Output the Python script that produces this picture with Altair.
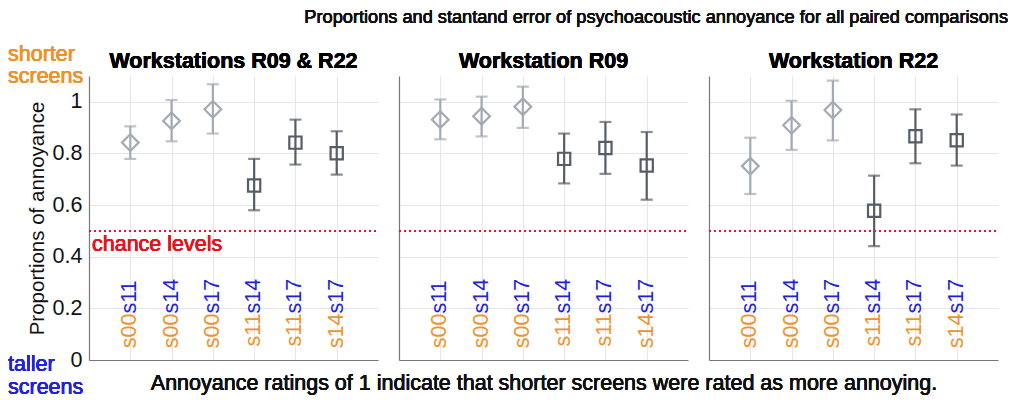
import altair as alt
import pandas as pd

pairs = ["s00s11", "s00s14", "s00s17", "s11s14", "s11s17", "s14s17"]
first_part = ["s00", "s00", "s00", "s11", "s11", "s14"]
second_part = ["s11", "s14", "s17", "s14", "s17", "s17"]
pos = [1, 2, 3, 4, 5, 6]
group = ["ref", "ref", "ref", "cmp", "cmp", "cmp"]

panel_titles = ["Workstations R09 & R22", "Workstation R09", "Workstation R22"]

mean_all = [0.842, 0.926, 0.971, 0.676, 0.842, 0.801]
lo_all = [0.779, 0.847, 0.877, 0.580, 0.757, 0.718]
hi_all = [0.905, 1.007, 1.068, 0.779, 0.931, 0.886]

mean_r09 = [0.931, 0.944, 0.981, 0.779, 0.821, 0.753]
lo_r09 = [0.855, 0.866, 0.899, 0.684, 0.721, 0.621]
hi_r09 = [1.009, 1.020, 1.059, 0.877, 0.922, 0.883]

mean_r22 = [0.751, 0.909, 0.968, 0.578, 0.867, 0.851]
lo_r22 = [0.643, 0.814, 0.851, 0.441, 0.762, 0.753]
hi_r22 = [0.861, 1.004, 1.082, 0.714, 0.971, 0.951]

chance = 0.5
y_ticks = [0, 0.2, 0.4, 0.6, 0.8, 1.0]

FONT = "Liberation Sans"
ORANGE = "#f0922a"
BLUE = "#2222d8"
RED = "#e8141e"
LIGHT = "#a3aab5"
DARK = "#565d67"
FS = 21.5

W, H = 289, 284
YDOM = [0, 1.1]


def panel(idx, means, los, his):
    df = pd.DataFrame({
        "pos": pos, "pair": pairs, "first": first_part, "second": second_part,
        "mean": means, "lo": los, "hi": his, "group": group,
    })
    xs = alt.Scale(domain=[0, 7], nice=False)
    ys = alt.Scale(domain=YDOM, nice=False)
    if idx == 0:
        yaxis = alt.Axis(values=y_ticks, format="~g", title="Proportions of annoyance",
                         titleFontSize=20.5, titleFontWeight="normal", titleColor="#111",
                         titleFont=FONT, titlePadding=5,
                         labelFontSize=FS, labelFont=FONT, labelColor="#111",
                         labelPadding=7, ticks=False,
                         domainColor="#777", domainWidth=1.2,
                         gridColor="#e6e6e6")
    else:
        yaxis = alt.Axis(values=y_ticks, title=None, labels=False, ticks=False,
                         domainColor="#777", domainWidth=1.2, gridColor="#e6e6e6")
    xaxis = alt.Axis(values=pos, title=None, labels=False, ticks=False,
                     domainColor="#777", domainWidth=1.2, gridColor="#e6e6e6")

    base = alt.Chart(df)
    color_enc = alt.Color("group:N", scale=alt.Scale(domain=["ref", "cmp"], range=[LIGHT, DARK]),
                          legend=None)

    grid = base.mark_point(opacity=0).encode(
        x=alt.X("pos:Q", scale=xs, axis=xaxis),
        y=alt.Y("mean:Q", scale=ys, axis=yaxis),
    )
    chance_rule = base.mark_rule(color=RED, strokeWidth=2, strokeDash=[2, 3]).encode(
        y=alt.datum(chance),
        x=alt.value(0), x2=alt.value(W),
    )
    bars = base.mark_rule(strokeWidth=2.2).encode(
        x="pos:Q", y="lo:Q", y2="hi:Q", color=color_enc
    )
    cap_hi = base.mark_tick(orient="horizontal", size=12, thickness=2.2).encode(
        x="pos:Q", y="hi:Q", color=color_enc
    )
    cap_lo = base.mark_tick(orient="horizontal", size=12, thickness=2.2).encode(
        x="pos:Q", y="lo:Q", color=color_enc
    )
    pts = base.mark_point(filled=False, strokeWidth=2.2, fill="white", fillOpacity=0).encode(
        x="pos:Q", y="mean:Q", color=color_enc,
        shape=alt.Shape("group:N", scale=alt.Scale(domain=["ref", "cmp"], range=["diamond", "square"]),
                        legend=None),
        size=alt.Size("group:N", scale=alt.Scale(domain=["ref", "cmp"], range=[280, 150]), legend=None),
    )
    lab1 = base.mark_text(angle=270, align="right", baseline="middle", fontSize=FS,
                          font=FONT, color=ORANGE).encode(
        x="pos:Q", y=alt.datum(0.18), text="first:N"
    )
    lab2 = base.mark_text(angle=270, align="left", baseline="middle", fontSize=FS,
                          font=FONT, color=BLUE).encode(
        x="pos:Q", y=alt.datum(0.18), text="second:N"
    )
    title = base.mark_text(fontSize=FS, font=FONT, fontWeight="bold", color="#000",
                           baseline="alphabetic", align="center").encode(
        x=alt.value(W / 2), y=alt.value(-8), text=alt.value(panel_titles[idx])
    )
    layers = [grid, chance_rule, bars, cap_hi, cap_lo, pts, lab1, lab2, title]
    if idx == 0:
        layers += [
            base.mark_text(fontSize=FS, font=FONT, color=RED, align="left", baseline="alphabetic").encode(
                x=alt.value(3), y=alt.value(175), text=alt.value("chance levels")),
            base.mark_text(fontSize=FS, font=FONT, color=ORANGE, align="left", baseline="alphabetic").encode(
                x=alt.value(-81), y=alt.value(-15), text=alt.value("shorter")),
            base.mark_text(fontSize=FS, font=FONT, color=ORANGE, align="left", baseline="alphabetic").encode(
                x=alt.value(-81), y=alt.value(7), text=alt.value("screens")),
            base.mark_text(fontSize=FS, font=FONT, color=BLUE, align="left", baseline="alphabetic").encode(
                x=alt.value(-81), y=alt.value(295), text=alt.value("taller")),
            base.mark_text(fontSize=FS, font=FONT, color=BLUE, align="left", baseline="alphabetic").encode(
                x=alt.value(-81), y=alt.value(318), text=alt.value("screens")),
        ]
    if idx == 1:
        layers.append(
            base.mark_text(fontSize=FS, font=FONT, color="#111", align="center", baseline="alphabetic").encode(
                x=alt.value(145), y=alt.value(314),
                text=alt.value("Annoyance ratings of 1 indicate that shorter screens were rated as more annoying."))
        )
    if idx == 2:
        layers.append(
            base.mark_text(fontSize=18.2, font=FONT, color="#111", align="right", baseline="top").encode(
                x=alt.value(W + 10), y=alt.value(-67),
                text=alt.value("Proportions and stantand error of psychoacoustic annoyance for all paired comparisons"))
        )
    return alt.layer(*layers).properties(width=W, height=H)


chart = alt.hconcat(
    panel(0, mean_all, lo_all, hi_all),
    panel(1, mean_r09, lo_r09, hi_r09),
    panel(2, mean_r22, lo_r22, hi_r22),
    spacing=21,
    bounds="flush",
).properties(padding=0).configure_view(stroke=None).configure_axis(
    grid=True
)

chart.save("out.html", embed_options={"renderer": "svg", "actions": False})
